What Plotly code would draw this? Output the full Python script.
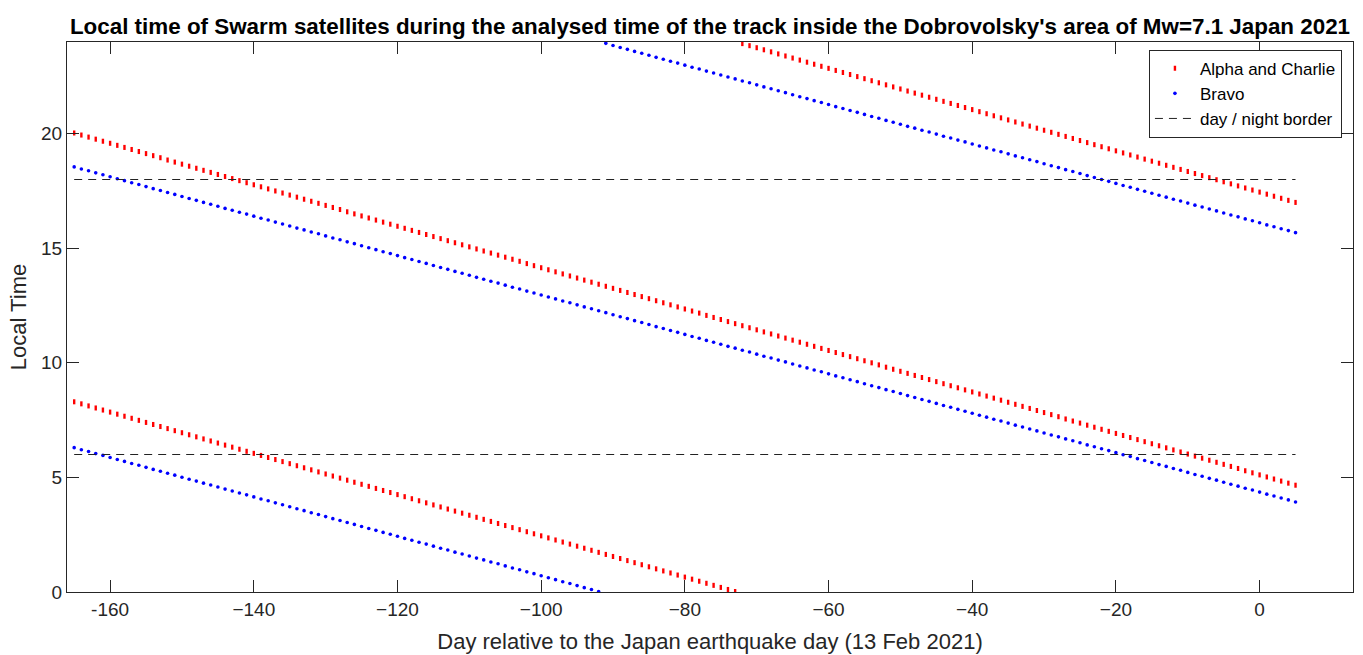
import plotly.graph_objects as go

# Day relative to the earthquake day (13 Feb 2021)
days = list(range(-165, 6))

# Local time (hours) of Swarm Alpha & Charlie, first track
alpha_charlie_lt_1 = [
    20.03, 19.94, 19.85, 19.76, 19.67, 19.58, 19.49, 19.40, 19.31, 19.22,
    19.13, 19.04, 18.95, 18.85, 18.76, 18.67, 18.58, 18.49, 18.40, 18.31,
    18.22, 18.13, 18.04, 17.95, 17.86, 17.77, 17.68, 17.59, 17.50, 17.41,
    17.32, 17.23, 17.14, 17.05, 16.96, 16.87, 16.78, 16.69, 16.59, 16.50,
    16.41, 16.32, 16.23, 16.14, 16.05, 15.96, 15.87, 15.78, 15.69, 15.60,
    15.51, 15.42, 15.33, 15.24, 15.15, 15.06, 14.97, 14.88, 14.79, 14.70,
    14.61, 14.52, 14.43, 14.33, 14.24, 14.15, 14.06, 13.97, 13.88, 13.79,
    13.70, 13.61, 13.52, 13.43, 13.34, 13.25, 13.16, 13.07, 12.98, 12.89,
    12.80, 12.71, 12.62, 12.53, 12.44, 12.35, 12.26, 12.17, 12.07, 11.98,
    11.89, 11.80, 11.71, 11.62, 11.53, 11.44, 11.35, 11.26, 11.17, 11.08,
    10.99, 10.90, 10.81, 10.72, 10.63, 10.54, 10.45, 10.36, 10.27, 10.18,
    10.09, 10.00, 9.91, 9.81, 9.72, 9.63, 9.54, 9.45, 9.36, 9.27,
    9.18, 9.09, 9.00, 8.91, 8.82, 8.73, 8.64, 8.55, 8.46, 8.37,
    8.28, 8.19, 8.10, 8.01, 7.92, 7.83, 7.74, 7.65, 7.55, 7.46,
    7.37, 7.28, 7.19, 7.10, 7.01, 6.92, 6.83, 6.74, 6.65, 6.56,
    6.47, 6.38, 6.29, 6.20, 6.11, 6.02, 5.93, 5.84, 5.75, 5.66,
    5.57, 5.48, 5.39, 5.29, 5.20, 5.11, 5.02, 4.93, 4.84, 4.75,
    4.66,
]

# Local time (hours) of Swarm Alpha & Charlie, second track (wraps at 24 h)
alpha_charlie_lt_2 = [
    8.30, 8.21, 8.12, 8.03, 7.94, 7.85, 7.76, 7.67, 7.58, 7.49,
    7.40, 7.31, 7.22, 7.13, 7.04, 6.95, 6.86, 6.77, 6.68, 6.59,
    6.50, 6.41, 6.32, 6.23, 6.14, 6.05, 5.96, 5.87, 5.78, 5.69,
    5.60, 5.51, 5.42, 5.33, 5.24, 5.15, 5.06, 4.97, 4.88, 4.79,
    4.70, 4.61, 4.52, 4.43, 4.34, 4.25, 4.16, 4.07, 3.98, 3.89,
    3.80, 3.71, 3.62, 3.53, 3.44, 3.35, 3.26, 3.17, 3.08, 2.99,
    2.90, 2.81, 2.72, 2.63, 2.54, 2.45, 2.36, 2.27, 2.18, 2.09,
    2.00, 1.91, 1.82, 1.73, 1.64, 1.55, 1.46, 1.37, 1.28, 1.19,
    1.10, 1.01, 0.92, 0.83, 0.74, 0.65, 0.56, 0.47, 0.38, 0.29,
    0.20, 0.11, 0.02, 23.93, 23.84, 23.75, 23.66, 23.57, 23.48, 23.39,
    23.30, 23.21, 23.12, 23.03, 22.94, 22.85, 22.76, 22.67, 22.58, 22.49,
    22.40, 22.31, 22.22, 22.13, 22.04, 21.95, 21.86, 21.77, 21.68, 21.59,
    21.50, 21.41, 21.32, 21.23, 21.14, 21.05, 20.96, 20.87, 20.78, 20.69,
    20.60, 20.51, 20.42, 20.33, 20.24, 20.15, 20.06, 19.97, 19.88, 19.79,
    19.70, 19.61, 19.52, 19.43, 19.34, 19.25, 19.16, 19.07, 18.98, 18.89,
    18.80, 18.71, 18.62, 18.53, 18.44, 18.35, 18.26, 18.17, 18.08, 17.99,
    17.90, 17.81, 17.72, 17.63, 17.54, 17.45, 17.36, 17.27, 17.18, 17.09,
    17.00,
]

# Local time (hours) of Swarm Bravo, first track
bravo_lt_1 = [
    18.55, 18.46, 18.38, 18.29, 18.21, 18.12, 18.03, 17.95, 17.86, 17.78,
    17.69, 17.60, 17.52, 17.43, 17.35, 17.26, 17.17, 17.09, 17.00, 16.92,
    16.83, 16.74, 16.66, 16.57, 16.49, 16.40, 16.31, 16.23, 16.14, 16.06,
    15.97, 15.88, 15.80, 15.71, 15.63, 15.54, 15.45, 15.37, 15.28, 15.20,
    15.11, 15.02, 14.94, 14.85, 14.77, 14.68, 14.59, 14.51, 14.42, 14.34,
    14.25, 14.16, 14.08, 13.99, 13.91, 13.82, 13.73, 13.65, 13.56, 13.48,
    13.39, 13.30, 13.22, 13.13, 13.05, 12.96, 12.87, 12.79, 12.70, 12.62,
    12.53, 12.44, 12.36, 12.27, 12.19, 12.10, 12.01, 11.93, 11.84, 11.76,
    11.67, 11.58, 11.50, 11.41, 11.33, 11.24, 11.15, 11.07, 10.98, 10.90,
    10.81, 10.72, 10.64, 10.55, 10.47, 10.38, 10.29, 10.21, 10.12, 10.04,
    9.95, 9.86, 9.78, 9.69, 9.61, 9.52, 9.43, 9.35, 9.26, 9.18,
    9.09, 9.00, 8.92, 8.83, 8.75, 8.66, 8.57, 8.49, 8.40, 8.32,
    8.23, 8.14, 8.06, 7.97, 7.89, 7.80, 7.71, 7.63, 7.54, 7.46,
    7.37, 7.28, 7.20, 7.11, 7.03, 6.94, 6.85, 6.77, 6.68, 6.60,
    6.51, 6.42, 6.34, 6.25, 6.17, 6.08, 5.99, 5.91, 5.82, 5.74,
    5.65, 5.56, 5.48, 5.39, 5.31, 5.22, 5.13, 5.05, 4.96, 4.88,
    4.79, 4.70, 4.62, 4.53, 4.45, 4.36, 4.27, 4.19, 4.10, 4.02,
    3.93,
]

# Local time (hours) of Swarm Bravo, second track (wraps at 24 h)
bravo_lt_2 = [
    6.30, 6.21, 6.13, 6.04, 5.96, 5.87, 5.78, 5.70, 5.61, 5.53,
    5.44, 5.35, 5.27, 5.18, 5.10, 5.01, 4.92, 4.84, 4.75, 4.67,
    4.58, 4.49, 4.41, 4.32, 4.24, 4.15, 4.06, 3.98, 3.89, 3.81,
    3.72, 3.63, 3.55, 3.46, 3.38, 3.29, 3.20, 3.12, 3.03, 2.95,
    2.86, 2.77, 2.69, 2.60, 2.52, 2.43, 2.34, 2.26, 2.17, 2.09,
    2.00, 1.91, 1.83, 1.74, 1.66, 1.57, 1.48, 1.40, 1.31, 1.23,
    1.14, 1.05, 0.97, 0.88, 0.80, 0.71, 0.62, 0.54, 0.45, 0.37,
    0.28, 0.19, 0.11, 0.02, 23.94, 23.85, 23.76, 23.68, 23.59, 23.51,
    23.42, 23.33, 23.25, 23.16, 23.08, 22.99, 22.90, 22.82, 22.73, 22.65,
    22.56, 22.47, 22.39, 22.30, 22.22, 22.13, 22.04, 21.96, 21.87, 21.79,
    21.70, 21.61, 21.53, 21.44, 21.36, 21.27, 21.18, 21.10, 21.01, 20.93,
    20.84, 20.75, 20.67, 20.58, 20.50, 20.41, 20.32, 20.24, 20.15, 20.07,
    19.98, 19.89, 19.81, 19.72, 19.64, 19.55, 19.46, 19.38, 19.29, 19.21,
    19.12, 19.03, 18.95, 18.86, 18.78, 18.69, 18.60, 18.52, 18.43, 18.35,
    18.26, 18.17, 18.09, 18.00, 17.92, 17.83, 17.74, 17.66, 17.57, 17.49,
    17.40, 17.31, 17.23, 17.14, 17.06, 16.97, 16.88, 16.80, 16.71, 16.63,
    16.54, 16.45, 16.37, 16.28, 16.20, 16.11, 16.02, 15.94, 15.85, 15.77,
    15.68,
]

# Day / night borders (local time, hours)
border_hours = [6, 18]

x_tick_vals = [-160, -140, -120, -100, -80, -60, -40, -20, 0]
x_tick_text = ["-160", "\u2212140", "\u2212120", "\u2212100", "\u221280",
               "\u221260", "\u221240", "\u221220", "0"]
y_tick_vals = [0, 5, 10, 15, 20]

FONT = "Liberation Sans, Arial, Helvetica, sans-serif"
AXC = "#262626"

fig = go.Figure()

fig.add_trace(go.Scatter(
    x=days + days, y=alpha_charlie_lt_1 + alpha_charlie_lt_2,
    mode="markers", name="Alpha and Charlie",
    marker=dict(symbol="line-ns", size=3.6, color="red",
                line=dict(color="red", width=2.4)),
))
fig.add_trace(go.Scatter(
    x=days + days, y=bravo_lt_1 + bravo_lt_2,
    mode="markers", name="Bravo",
    marker=dict(symbol="circle", size=3.6, color="blue", line=dict(width=0)),
))

bx, by = [], []
for h in border_hours:
    bx += [days[0], days[-1], None]
    by += [h, h, None]
fig.add_trace(go.Scatter(
    x=bx, y=by, mode="lines", name="day / night border",
    line=dict(color="#222222", width=1, dash="8px,6px"),
))

fig.update_layout(
    width=1363, height=655,
    margin=dict(l=67, r=10, t=42, b=63),
    paper_bgcolor="white", plot_bgcolor="white",
    font=dict(family=FONT, color=AXC, size=17),
    title=dict(
        text="<b>Local time of Swarm satellites during the analysed time of the track inside the Dobrovolsky's area of Mw=7.1 Japan 2021</b>",
        x=0.5, xref="paper", xanchor="center",
        y=1 - 26 / 655, yref="container", yanchor="middle",
        font=dict(family=FONT, size=22.4, color="black"),
    ),
    showlegend=True,
    legend=dict(
        x=0.9914, xanchor="right", y=0.986, yanchor="top",
        bgcolor="white", bordercolor=AXC, borderwidth=1,
        font=dict(family=FONT, size=17, color="black"),
        itemwidth=40, tracegroupgap=0,
    ),
)

fig.update_xaxes(
    range=[-166, 13], tickvals=x_tick_vals, ticktext=x_tick_text,
    ticks="inside", ticklen=12, tickwidth=1, tickcolor=AXC,
    showline=True, linecolor=AXC, linewidth=1, mirror="ticks",
    showgrid=False, zeroline=False, automargin=False,
    tickfont=dict(family=FONT, size=19, color=AXC),
    title=dict(text="Day relative to the Japan earthquake day (13 Feb 2021)",
               font=dict(family=FONT, size=22, color=AXC), standoff=14),
)
fig.update_yaxes(
    range=[0, 24], tickvals=y_tick_vals,
    ticks="inside", ticklen=12, tickwidth=1, tickcolor=AXC,
    showline=True, linecolor=AXC, linewidth=1, mirror="ticks",
    showgrid=False, zeroline=False, automargin=False,
    tickfont=dict(family=FONT, size=19, color=AXC),
    title=dict(text="Local Time", font=dict(family=FONT, size=22, color=AXC),
               standoff=8),
)

fig.write_html("out.html")
